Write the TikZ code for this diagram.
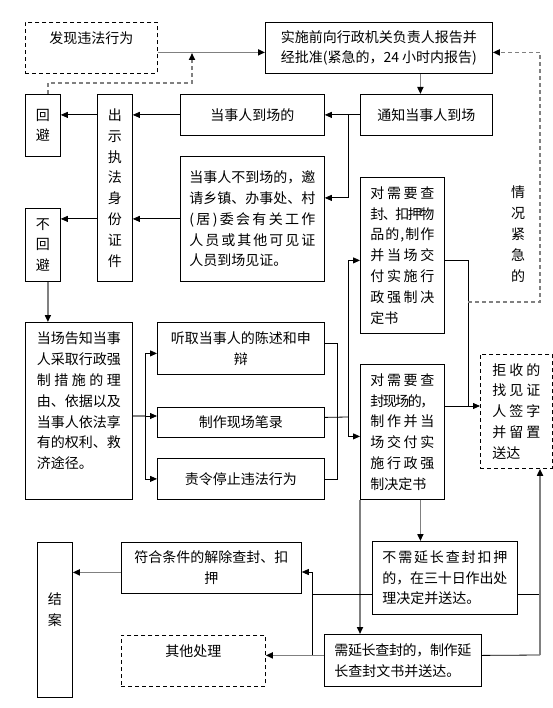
\documentclass[tikz,border=0pt]{standalone}
\usepackage{fontspec}
\setmainfont{Noto Sans CJK SC}
\usetikzlibrary{arrows.meta}
\definecolor{linegray}{RGB}{128,128,128}
\newcommand\spreadrow[1]{\hbox to\hsize{\spreadnext#1\endspread}\newline}
\def\spreadnext#1#2\endspread{#1\ifx\relax#2\relax\else\hskip 0pt plus 1fil minus 3pt\spreadnext#2\endspread\fi}
\tikzset{
  box/.style={draw, line width=0.8pt, anchor=north west, inner sep=0pt, align=center, font=\fontsize{14pt}{20.8pt}\selectfont},
  dbox/.style={box, dash pattern=on 4pt off 3pt},
  para/.style={box, align=left},
  link/.style={draw, line width=0.8pt},
  glink/.style={draw, line width=1.6pt, linegray},
}
\begin{document}
\begin{tikzpicture}[x=1pt, y=-1pt, >={Triangle[length=7pt,width=6pt,color=black]}]
\useasboundingbox (0,0) rectangle (553,708);
\node[dbox, minimum width=132, minimum height=51] (find) at (25,22) {发现违法行为\\ ~};
\node[box, minimum width=227, minimum height=51] (report) at (265,22) {实施前向行政机关负责人报告并\\经批准(紧急的，24 小时内报告)};
\node[box, minimum width=35, minimum height=62] (avoid) at (25,94) {回\\避};
\node[box, minimum width=35, minimum height=187] (show) at (97,94) {出\\示\\执\\法\\身\\份\\证\\件};
\node[box, minimum width=144, minimum height=41] (present) at (180,94) {当事人到场的};
\node[box, minimum width=132, minimum height=41] (notify) at (360,94) {通知当事人到场};
\node[para, text width=126, minimum width=144, minimum height=125] (absent) at (180,156) {\spreadrow{当事人不到场的，邀}\spreadrow{请乡镇、办事处、村}\spreadrow{(居)委会有关工作}\spreadrow{人员或其他可见证}人员到场见证。};
\node[box, minimum width=35, minimum height=73] (noavoid) at (25,208) {不\\回\\避};
\node[para, text width=84, minimum width=107, minimum height=177] (inform) at (25,322) {\spreadrow{当场告知当事}\spreadrow{人采取行政强}\spreadrow{制措施的理}\spreadrow{由、依据以及}\spreadrow{当事人依法享}\spreadrow{有的权利、救}济途径。\newline\mbox{}};
\node[box, minimum width=167, minimum height=52] (hear) at (157,322) {听取当事人的陈述和申\\辩};
\node[box, minimum width=167, minimum height=30] (record) at (157,407) {制作现场笔录};
\node[box, minimum width=167, minimum height=41] (stop) at (157,458) {责令停止违法行为};
\node[para, text width=64, minimum width=84, minimum height=156] (seize) at (360,177) {\spreadrow{对需要查}\spreadrow{封、扣押物}\spreadrow{品的,制作}\spreadrow{并当场交}\spreadrow{付实施行}\spreadrow{政强制决}定书};
\node[para, text width=64, minimum width=84, minimum height=135] (scene) at (360,364) {\spreadrow{对需要查}\spreadrow{封现场的，}\spreadrow{制作并当}\spreadrow{场交付实}\spreadrow{施行政强}制决定书};
\node[para, dash pattern=on 4pt off 3pt, text width=48, minimum width=72, minimum height=114] (refuse) at (480,354) {\spreadrow{拒收的}\spreadrow{找见证}\spreadrow{人签字}\spreadrow{并留置}送达};
\node[align=center, font=\fontsize{14pt}{20.8pt}\selectfont] (urgent) at (518,234) {情\\况\\紧\\急\\的};
\node[box, minimum width=35, minimum height=155] (close) at (37,542) {结\\案\\ ~};
\node[box, minimum width=180, minimum height=51] (release) at (121,542) {符合条件的解除查封、扣\\押};
\node[dbox, minimum width=144, minimum height=51] (other) at (121,635) {其他处理\\ ~};
\node[para, text width=125, minimum width=145, minimum height=73] (nolonger) at (372,541) {\spreadrow{不需延长查封扣押}\spreadrow{的，在三十日作出处}理决定并送达。};
\node[para, text width=137, minimum width=157, minimum height=52] (extend) at (324,634) {\spreadrow{需延长查封的，制作延}长查封文书并送达。};

% top row
\coordinate (fb) at (192,53);
\path[glink,->] ([yshift=-4.5]find.east) -- ([yshift=-4.5]report.west);
\path[glink,dash pattern=on 4pt off 3pt,->] ([xshift=5]avoid.north) -- ++(0,-11) -| (fb);
\path[glink,->] ([xshift=-6]notify.north |- report.south) -- ([xshift=-6]notify.north);
\path[link,->] (notify.west) -- (present.east);
\path[link,->] ([xshift=-12]notify.west) |- ([yshift=21]absent.east);
\path[link,->] (present.west) -- (present.west -| show.east);
\path[link,->] (absent.west) -- (absent.west -| show.east);
\path[link,->] (present.west -| show.west) -- (present.west -| avoid.east);
\path[link,->] (absent.west -| show.west) -- (absent.west -| noavoid.east);
\path[glink,->] ([xshift=5]noavoid.south) -- ([xshift=5]noavoid.south |- inform.north);

% middle
\coordinate (ij) at (145,416);
\path[glink] (inform.east |- ij) -- (ij);
\path[link,->] (ij) -- (ij -| record.west);
\path[link,->] (ij) |- ([yshift=-5]hear.west);
\path[link,->] (ij) |- (stop.west);
\path[link] ([yshift=5]hear.east) -- ++(13,0) |- (stop.east);
\coordinate (mj) at (348,417);
\path[link] ([yshift=5]record.east) -- (mj);
\path[link,->] (mj) |- ([yshift=-5]seize.west);
\path[link,->] (mj) |- ([yshift=-4.5]scene.west);
\coordinate (kj) at (468,406);
\coordinate (uj) at (468,302);
\path[link] ([yshift=-5]seize.east) -| (kj);
\path[link,->] (scene.east |- kj) -- (refuse.west |- kj);
\path[glink,dash pattern=on 4pt off 3pt,->] (uj) -- ++(72,0) |- ([yshift=-4.5]report.east);

% bottom
\path[glink,->] (scene.south west) -- (scene.south west |- extend.north);
\path[glink,->] ([xshift=18]scene.south) -- ([xshift=18]scene.south |- nolonger.north);
\coordinate (rj) at (312,572);
\path[link,->] ([yshift=-16]nolonger.west) -| (rj) -- (rj -| release.east);
\path[glink,->] ([yshift=5]extend.west) -- ([yshift=5]extend.west -| other.east);
\path[link] ([yshift=5]extend.west -| rj) -- (rj);
\coordinate (qj) at (540,655);
\path[link] ([yshift=-16]nolonger.east) -- ([yshift=-16]nolonger.east -| qj);
\path[link] ([yshift=5]extend.east) -- (qj);
\path[glink,->] (qj) -- (qj |- refuse.south);
\path[glink,->] ([yshift=-4.5]release.west) -- ([yshift=-4.5]release.west -| close.east);
\end{tikzpicture}
\end{document}
